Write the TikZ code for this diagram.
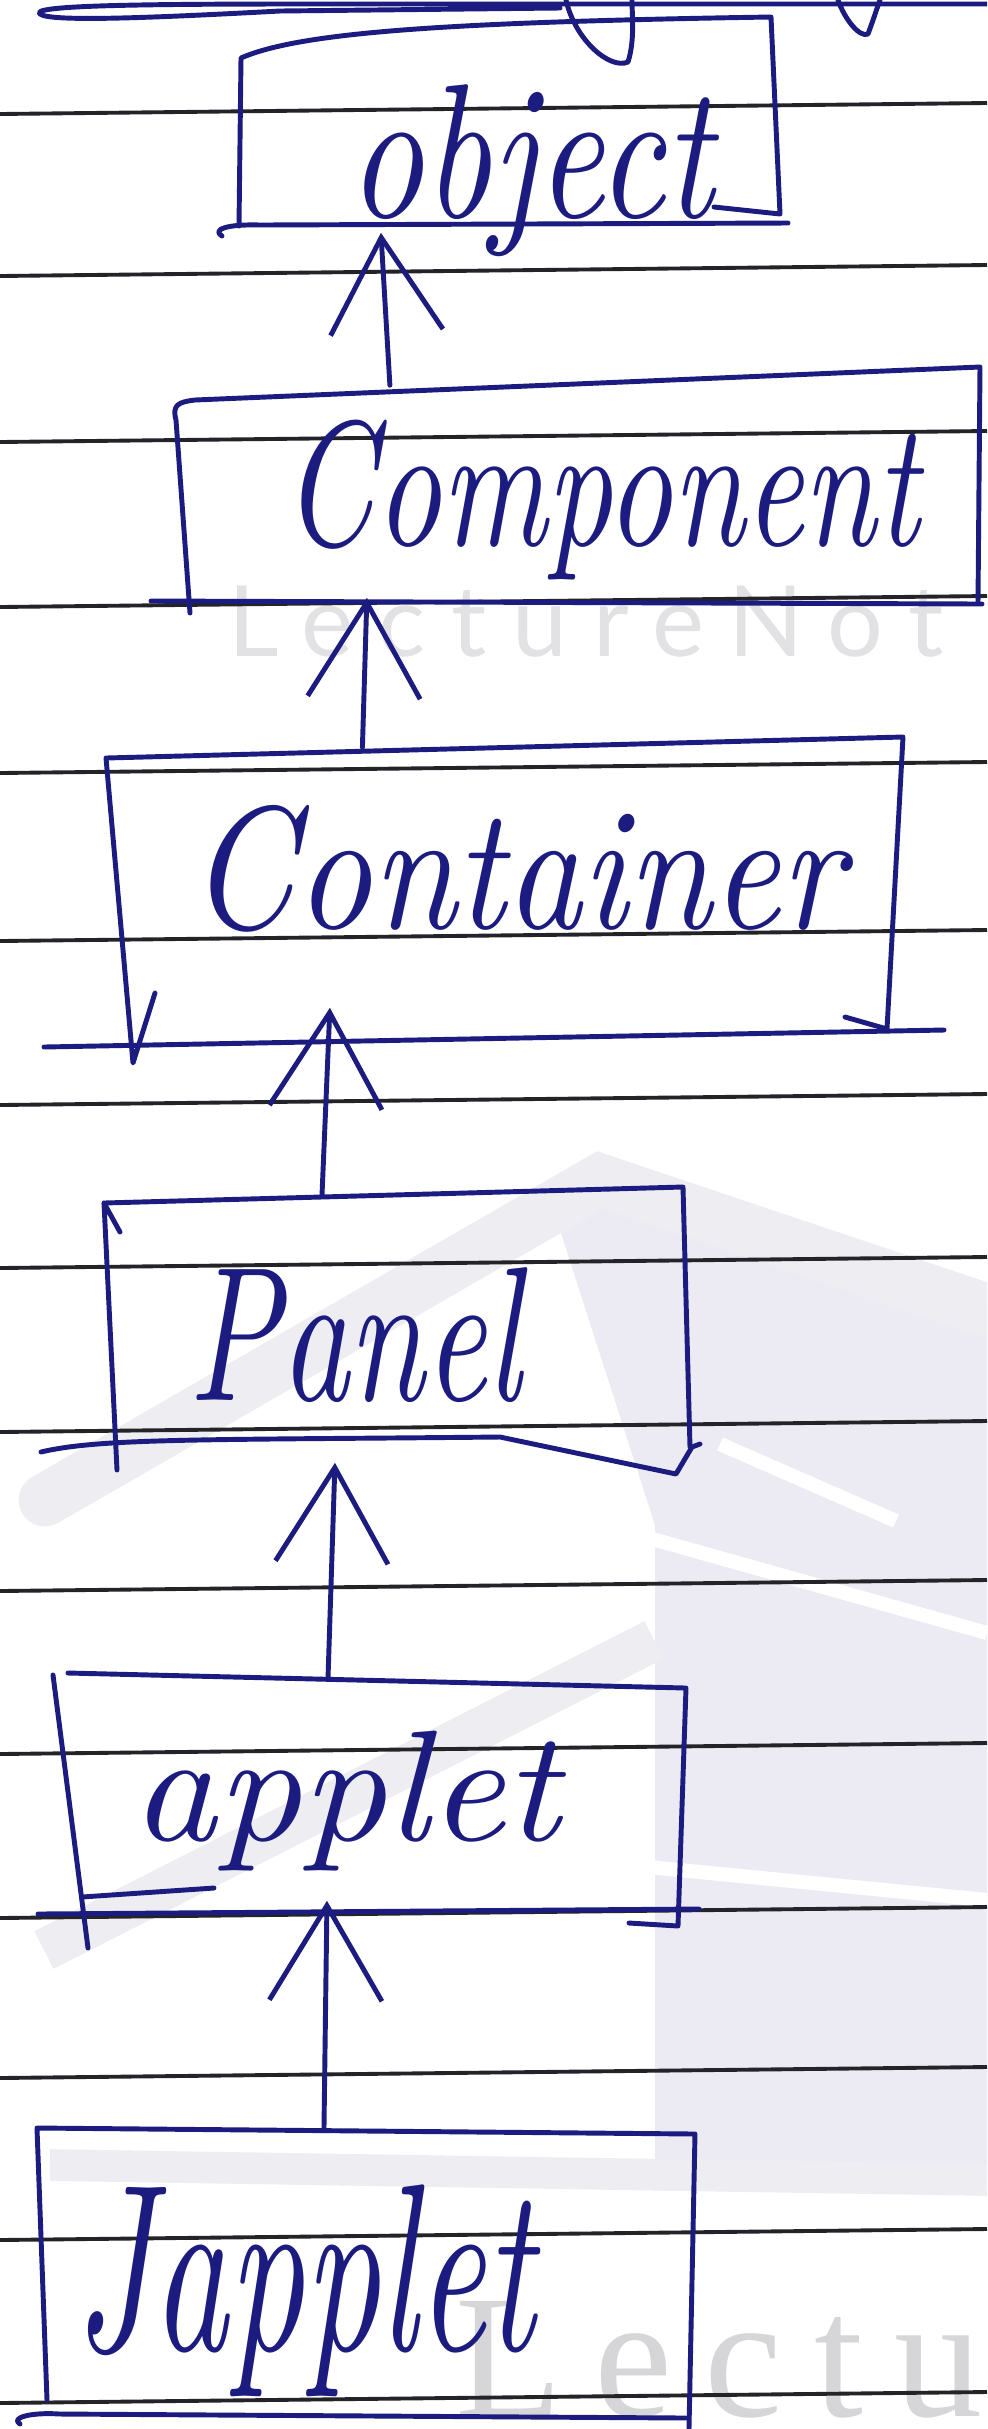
\documentclass[tikz,border=0pt]{standalone}
\usepackage{fontspec}
\usepackage{graphicx}
\usetikzlibrary{arrows.meta}
\newfontfamily\wmsans[LetterSpace=26]{Lato}
\newfontfamily\wmserif[LetterSpace=18]{Liberation Serif}
\definecolor{pen}{RGB}{28,28,128}
\definecolor{rule}{RGB}{35,35,40}
\definecolor{wmA}{RGB}{226,226,229}
\definecolor{wmB}{RGB}{214,214,217}
\definecolor{logoA}{RGB}{238,238,242}
\definecolor{logoB}{RGB}{236,235,244}
\newlength\pxu \setlength\pxu{0.01cm}
\newcommand\hw[3]{\resizebox*{#1\pxu}{#2\pxu}{\itshape #3}}
\begin{document}
\begin{tikzpicture}[x=0.01cm,y=-0.01cm,
  pen/.style={draw=pen,line width=1.4pt,line cap=round,line join=round},
  ruled/.style={draw=rule,line width=1.1pt},
  boxnode/.style={rectangle,draw=none,inner sep=0pt},
  lbl/.style={text=pen,inner sep=0pt},
  inherit/.style={pen,-{Straight Barb[length=27pt,width=32pt]}},
]
\useasboundingbox (0,0) rectangle (987,2429);
\clip (0,0) rectangle (987,2429);
\fill[white] (0,0) rectangle (987,2429);

% faint logo of the paper
\fill[logoB] (600,1160) -- (987,1300) -- (987,2165) -- (655,2165) -- (655,1525) -- (560,1230) -- cycle;
\draw[logoA,line width=15pt,line cap=round] (45,1500) -- (600,1180) -- (987,1310);
\draw[white,line width=4pt] (624,1531) -- (987,1633);
\draw[white,line width=4pt] (720,1444) -- (896,1521);
\draw[white,line width=4pt] (628,1865) -- (987,1900);
\draw[logoA,line width=12pt] (44,1950) -- (654,1640);
\draw[logoA,line width=9pt] (50,2165) -- (987,2180);

% watermarks
\node[anchor=base west,text=wmA,inner sep=0pt,font=\wmsans\fontsize{28}{30}\selectfont] (wm1) at (228,656) {LectureNot};
\node[anchor=base west,text=wmB,inner sep=0pt,font=\wmserif\fontsize{50}{52}\selectfont] (wm2) at (455,2416) {Lectu};

% ruled lines
\foreach \y in {108,270,436,601,767,935,1099,1262,1426,1585,1748,1912,2072,2234,2397}
  \draw[ruled] (0,\y+6) -- (987,\y-5);

% fragments of the line above
\draw[pen] (987,4) -- (300,4) .. controls (120,4) and (30,6) .. (40,14) .. controls (50,22) and (150,18) .. (280,11) -- (560,8);
\draw[pen] (566,0) .. controls (575,40) and (610,70) .. (628,62) .. controls (635,40) and (632,15) .. (632,0);
\draw[pen] (838,0) .. controls (845,20) and (860,38) .. (868,34) .. controls (875,15) and (878,5) .. (880,0);

% boxes
\node[boxnode,minimum width=5.41cm,minimum height=1.86cm] (obj) at (509.5,133) {};
\node[boxnode,minimum width=8.04cm,minimum height=2.16cm] (comp) at (578,494) {};
\node[boxnode,minimum width=7.85cm,minimum height=2.92cm] (cont) at (502.5,894) {};
\node[boxnode,minimum width=5.82cm,minimum height=2.53cm] (panel) at (397,1321.5) {};
\node[boxnode,minimum width=6.24cm,minimum height=2.32cm] (applet) at (372,1796) {};
\node[boxnode,minimum width=6.52cm,minimum height=2.88cm] (japplet) at (366,2274) {};

% hand-drawn outlines
\draw[pen] (239,226) -- (241,58) .. controls (300,32) and (450,22) .. (771,17) -- (780,214) -- (714,207);
\draw[pen] (222,236) .. controls (212,230) and (225,224) .. (260,225) -- (788,223);

\draw[pen] (190,613) -- (176,420) .. controls (172,405) and (178,402) .. (195,400) -- (980,367) -- (978,603);
\draw[pen] (151,601) -- (982,604);

\draw[pen] (155,993) -- (133,1063) -- (106,758) -- (903,737) -- (887,1029) -- (845,1017);
\draw[pen] (44,1047) -- (944,1030);

\draw[pen] (120,1232) -- (104,1203) -- (117,1470);
\draw[pen] (104,1203) -- (683,1187) -- (690,1447);
\draw[pen] (41,1452) .. controls (100,1438) and (200,1440) .. (500,1437) -- (676,1474) -- (692,1447) -- (700,1444);

\draw[pen] (88,1948) -- (53,1675);
\draw[pen] (68,1673) -- (686,1688) -- (678,1926) -- (629,1923);
\draw[pen] (38,1914) -- (699,1909);
\draw[pen] (82,1897) -- (214,1888);

\draw[pen] (47,2400) -- (37,2128) -- (695,2134) -- (689,2429);
\draw[pen] (20,2424) .. controls (10,2418) and (30,2412) .. (60,2414) -- (686,2418);

% labels
\node[lbl] (objt) at (531,171) {\hw{365}{172}{object}};
\node[lbl] (compt) at (601,500) {\hw{636}{160}{Component}};
\node[lbl] (contt) at (516,869) {\hw{654}{127}{Container}};
\node[lbl] (panelt) at (355,1335) {\hw{333}{135}{Panel}};
\node[lbl] (applett) at (346,1801) {\hw{428}{140}{applet}};
\node[lbl] (japplett) at (305,2291) {\hw{460}{212}{Japplet}};

% inheritance arrows
\draw[inherit] ([xshift=-1.88cm]comp.north) -- ([xshift=-1.285cm,yshift=-0.06cm]obj.south);
\draw[inherit] ([xshift=-1.40cm]cont.north) -- ([xshift=-2.11cm,yshift=0.05cm]comp.south);
\draw[inherit] ([xshift=-0.75cm,yshift=-0.02cm]panel.north) -- ([xshift=-1.725cm,yshift=0.33cm]cont.south);
\draw[inherit] ([xshift=-0.44cm]applet.north) -- ([xshift=-0.62cm,yshift=-0.14cm]panel.south);
\draw[inherit] ([xshift=-0.42cm]japplet.north) -- ([xshift=-0.45cm,yshift=0.12cm]applet.south);
\end{tikzpicture}
\end{document}
